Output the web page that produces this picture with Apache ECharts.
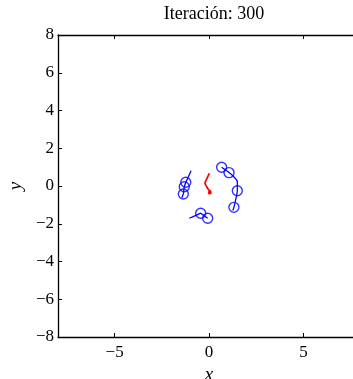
<!DOCTYPE html>
<html>
<head>
<meta charset="utf-8">
<script src="https://cdn.jsdelivr.net/npm/echarts@6/dist/echarts.min.js"></script>
<style>html,body{margin:0;padding:0;background:#fff}#c{width:353px;height:379px}</style>
</head>
<body>
<div id="c"></div>
<script>
var titleText = "Iteración: 300";
var xTicks = [-5, 0, 5];
var yTicks = [-8, -6, -4, -2, 0, 2, 4, 6, 8];
// blue trails
var trailLeft = [[-0.95, 0.81], [-1.08, 0.52], [-1.23, 0.2], [-1.31, -0.04], [-1.36, -0.42], [-1.44, -0.62]];
var trailRight = [[0.67, 0.99], [1.06, 0.71], [1.3, 0.5], [1.5, 0.23], [1.5, -0.25], [1.42, -0.7], [1.32, -1.13], [1.26, -1.3]];
var trailBottom = [[-1.04, -1.71], [-0.75, -1.58], [-0.44, -1.44], [-0.07, -1.71]];
// red trail
var trailRed = [[0.02, 0.67], [-0.1, 0.42], [-0.21, 0.14], [-0.12, -0.04], [-0.02, -0.2], [0.08, -0.28], [0.1, -0.38], [0.0, -0.4], [-0.02, -0.3], [0.1, -0.34]];
// agent circles
var circles = [[-1.23, 0.2], [-1.31, -0.04], [-1.36, -0.42], [0.67, 0.99], [1.06, 0.71], [1.5, -0.25], [1.32, -1.13], [-0.44, -1.44], [-0.07, -1.71]];

function fmt(v) { return v < 0 ? "\u2212" + Math.abs(v) : String(v); }
var serif = "Liberation Serif";
var chart = echarts.init(document.getElementById('c'));
var axisLine = { show: true, onZero: false, lineStyle: { color: '#000', width: 1.3 } };
chart.setOption({
  animation: false,
  title: { text: titleText, left: 209, top: 0, textAlign: 'center',
    textStyle: { fontFamily: serif, fontSize: 18, fontWeight: 'normal', color: '#000' } },
  grid: { left: 58, top: 35, width: 302, height: 302, outerBoundsMode: 'none', containLabel: false },
  xAxis: [{
    type: 'value', min: -8, max: 8, position: 'bottom',
    axisLine: axisLine,
    axisTick: { show: true, inside: true, length: 4, customValues: xTicks, lineStyle: { color: '#000' } },
    axisLabel: { customValues: xTicks, formatter: fmt, fontFamily: serif, fontSize: 17, color: '#000', margin: 7 },
    splitLine: { show: false },
    name: 'x', nameLocation: 'middle', nameGap: 28,
    nameTextStyle: { fontFamily: serif, fontStyle: 'italic', fontSize: 19, color: '#000' }
  }, {
    type: 'value', min: -8, max: 8, position: 'top',
    axisLine: axisLine,
    axisTick: { show: true, inside: true, length: 4, customValues: xTicks, lineStyle: { color: '#000' } },
    axisLabel: { show: false },
    splitLine: { show: false }
  }],
  yAxis: [{
    type: 'value', min: -8, max: 8, interval: 2, position: 'left',
    axisLine: axisLine,
    axisTick: { show: true, inside: true, length: 4, lineStyle: { color: '#000' } },
    axisLabel: { formatter: fmt, fontFamily: serif, fontSize: 17, color: '#000', margin: 4 },
    splitLine: { show: false },
    name: 'y', nameLocation: 'middle', nameGap: 33, nameRotate: 90,
    nameTextStyle: { fontFamily: serif, fontStyle: 'italic', fontSize: 19, color: '#000' }
  }],
  series: [
    { type: 'line', data: trailLeft, showSymbol: false, lineStyle: { color: '#0000ff', width: 1.3 }, silent: true },
    { type: 'line', data: trailRight, showSymbol: false, smooth: 0.3, lineStyle: { color: '#0000ff', width: 1.3 }, silent: true },
    { type: 'line', data: trailBottom, showSymbol: false, lineStyle: { color: '#0000ff', width: 1.3 }, silent: true },
    { type: 'line', data: trailRed, showSymbol: false, smooth: 0.3, lineStyle: { color: '#ff0000', width: 1.7 }, silent: true },
    { type: 'scatter', data: circles, symbol: 'circle', symbolSize: 10,
      itemStyle: { color: 'rgba(0,0,0,0)', borderColor: '#0000ff', borderWidth: 1.4 }, silent: true }
  ]
});
</script>
</body>
</html>
